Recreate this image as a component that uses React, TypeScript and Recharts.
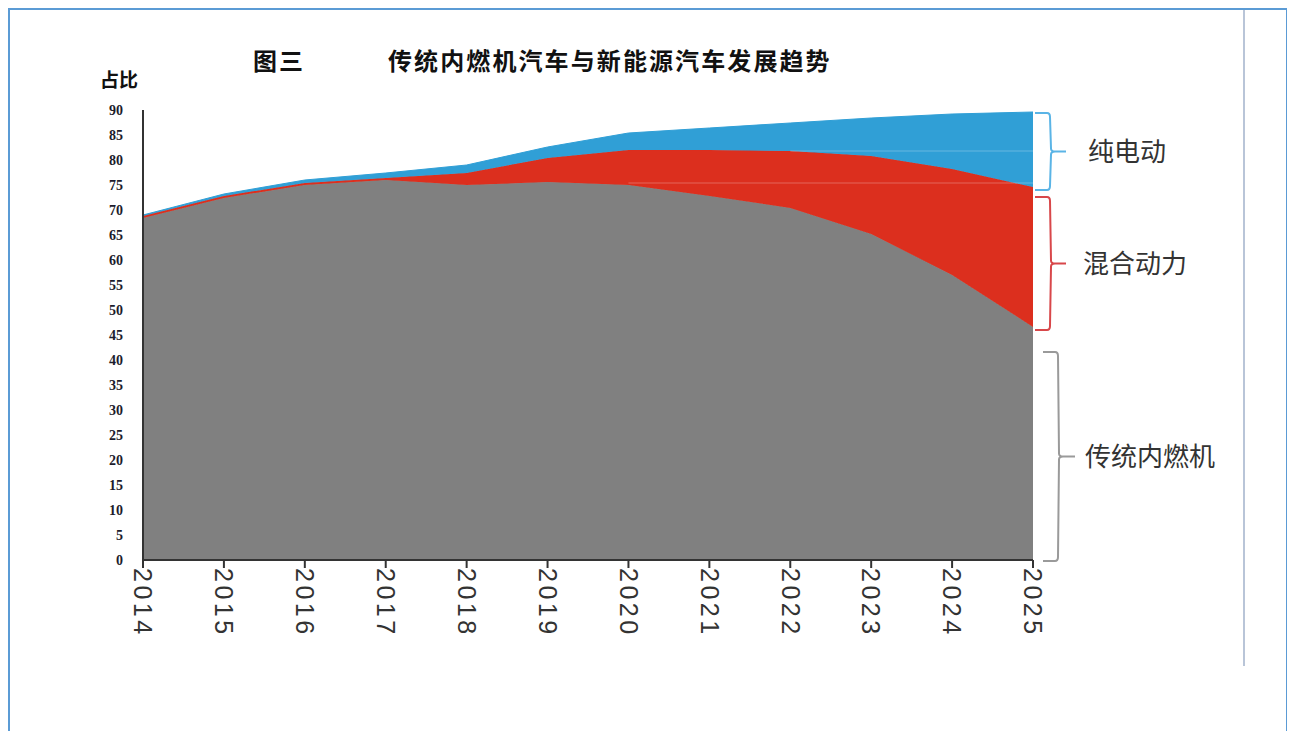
import { AreaChart, Area, XAxis, YAxis, ReferenceLine } from 'recharts';

// 年份 / 各类车型占比（读自原图，单位 %）
const years = ['2014', '2015', '2016', '2017', '2018', '2019', '2020', '2021', '2022', '2023', '2024', '2025'];
const iceShare = [68.4, 72.4, 75, 76, 75, 75.6, 75, 72.8, 70.4, 65.2, 57, 46.6];
const hybridShare = [0.4, 0.4, 0.4, 0.4, 2.4, 4.8, 7, 9.2, 11.4, 15.6, 21.2, 28];
const evShare = [0.2, 0.4, 0.6, 1.0, 1.6, 2.2, 3.4, 4.4, 5.6, 7.6, 11, 15];
const yTicks = [0, 5, 10, 15, 20, 25, 30, 35, 40, 45, 50, 55, 60, 65, 70, 75, 80, 85, 90];

const data = years.map((year, i) => ({
  year,
  ice: iceShare[i],
  hybrid: hybridShare[i],
  ev: evShare[i],
}));

const W = 1295;
const H = 731;
const PLOT = { left: 143, top: 110, right: 1033, bottom: 560 };
const Y_MAX = 90;

const GRAY = '#808080';
const RED = '#DC2F1E';
const BLUE = '#309FD6';

// 数值 -> 像素（与图表坐标一致，用于右侧括号注释）
const yPix = (v: number) => PLOT.top + (1 - v / Y_MAX) * (PLOT.bottom - PLOT.top);

const YTick = (props: any) => {
  const { x, y, payload } = props;
  return (
    <text x={x} y={y} dy="0.35em" textAnchor="end" fill="#1c1c2c"
      fontFamily="'Liberation Serif', serif" fontWeight="bold" fontSize={14}>
      {payload.value}
    </text>
  );
};

const XTick = (props: any) => {
  const { x, y, payload } = props;
  return (
    <g transform={`translate(${x},${y})`}>
      <text transform="rotate(90)" textAnchor="start" dy="0.35em" fill="#333"
        fontFamily="'Liberation Sans', Arial, sans-serif" fontSize={25} letterSpacing={3.5}>
        {payload.value}
      </text>
    </g>
  );
};

function Brace({ x, y1, y2, tip, color }: { x: number; y1: number; y2: number; tip: number; color: string }) {
  const mid = (y1 + y2) / 2;
  const v = x + 15;
  const d = `M${x},${y1} L${v - 3},${y1} Q${v},${y1} ${v},${y1 + 4} L${v + 1},${mid - 3} Q${v + 1},${mid} ${v + 5},${mid} L${tip},${mid}` +
    ` M${v + 5},${mid} Q${v + 1},${mid} ${v + 1},${mid + 3} L${v},${y2 - 4} Q${v},${y2} ${v - 3},${y2} L${x},${y2}`;
  return <path d={d} fill="none" stroke={color} strokeWidth={2} />;
}

export default function App() {
  const last = data.length - 1;
  const iceTop = iceShare[last];
  const hybridTop = iceTop + hybridShare[last];
  const evTop = hybridTop + evShare[last];
  const labelStyle = { fontFamily: "'Noto Sans CJK SC', sans-serif", fontSize: 26, fill: '#333' };

  const braces = [
    { label: '纯电动', y1: yPix(evTop) + 1, y2: yPix(hybridTop) + 3, x: 1035, tip: 1066, color: '#5AB4E6', tx: 1088 },
    { label: '混合动力', y1: yPix(hybridTop) + 10, y2: yPix(iceTop) + 3, x: 1035, tip: 1066, color: '#D8474A', tx: 1083 },
    { label: '传统内燃机', y1: yPix(iceTop) + 25, y2: yPix(0) + 1, x: 1043, tip: 1075, color: '#9a9a9a', tx: 1085 },
  ];

  return (
    <div style={{ position: 'relative', width: W, height: H, marginLeft: -8, marginTop: -8, background: '#fff' }}>
      <div style={{ position: 'absolute', left: 1243, top: 10, width: 2, height: 656, background: '#b9c5d8' }} />

      <div style={{ position: 'absolute', left: 0, top: 0 }}>
        <AreaChart width={W} height={H} data={data}
          margin={{ top: PLOT.top, right: W - PLOT.right, bottom: H - PLOT.bottom - 80, left: PLOT.left - 60 }}>
          <XAxis dataKey="year" height={80} tick={<XTick />} tickSize={8} tickMargin={0}
            axisLine={{ stroke: '#333', strokeWidth: 2 }} tickLine={{ stroke: '#333', strokeWidth: 2 }} interval={0} />
          <YAxis width={60} domain={[0, Y_MAX]} ticks={yTicks} tick={<YTick />} tickLine={false} tickSize={0} tickMargin={20}
            axisLine={{ stroke: '#333', strokeWidth: 2 }} interval={0} />
          <Area type="linear" dataKey="ice" stackId="s" stroke={GRAY} fill={GRAY} fillOpacity={1} isAnimationActive={false} />
          <Area type="linear" dataKey="hybrid" stackId="s" stroke={RED} fill={RED} fillOpacity={1} isAnimationActive={false} />
          <Area type="linear" dataKey="ev" stackId="s" stroke={BLUE} fill={BLUE} fillOpacity={1} isAnimationActive={false} />
          <ReferenceLine segment={[{ x: '2022', y: 81.8 }, { x: '2025', y: 81.8 }]} stroke="rgba(255,255,255,0.18)" strokeWidth={1.5} />
          <ReferenceLine segment={[{ x: '2020', y: 75.4 }, { x: '2025', y: 75.4 }]} stroke="rgba(255,255,255,0.18)" strokeWidth={1.5} />
        </AreaChart>
      </div>

      <svg width={W} height={H} style={{ position: 'absolute', left: 0, top: 0, pointerEvents: 'none' }}>
        <text x={253} y={62} dy="0.35em" fontFamily="'Noto Sans CJK SC', sans-serif" fontWeight="bold" fontSize={24} letterSpacing={2} fill="#111">图三</text>
        <text x={388} y={62} dy="0.35em" fontFamily="'Noto Sans CJK SC', sans-serif" fontWeight="bold" fontSize={24} letterSpacing={2.1} fill="#111">
          传统内燃机汽车与新能源汽车发展趋势
        </text>
        <text x={100} y={80} dy="0.35em" fontFamily="'Noto Sans CJK SC', sans-serif" fontWeight="bold" fontSize={19} fill="#111">占比</text>
        {braces.map((b) => (
          <g key={b.label}>
            <Brace x={b.x} y1={b.y1} y2={b.y2} tip={b.tip} color={b.color} />
            <text x={b.tx} y={(b.y1 + b.y2) / 2} dy="0.35em" {...labelStyle}>{b.label}</text>
          </g>
        ))}
      </svg>

      {/* 外框 */}
      <div style={{ position: 'absolute', left: 4, top: 4, width: 6, height: 727, background: '#5B9BD5', zIndex: 10 }} />
      <div style={{ position: 'absolute', left: 4, top: 4, width: 1291, height: 6, background: '#5B9BD5', zIndex: 10 }} />
      <div style={{ position: 'absolute', left: 1286, top: 4, width: 9, height: 727, background: '#5B9BD5', zIndex: 10 }} />
    </div>
  );
}
